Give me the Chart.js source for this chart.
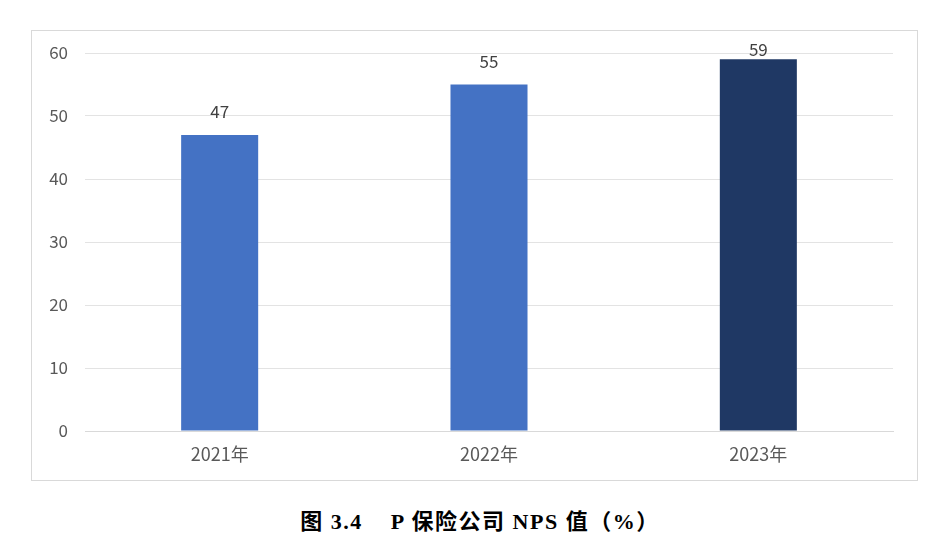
<!DOCTYPE html>
<html>
<head>
<meta charset="utf-8">
<script src="https://cdn.jsdelivr.net/npm/chart.js@4.4.1/dist/chart.umd.min.js"></script>
<style>
  html, body { margin: 0; padding: 0; background: #fff; }
  body { width: 950px; height: 534px; position: relative; overflow: hidden; }
  #box { position: absolute; left: 31px; top: 30px; width: 885px; height: 449px; border: 1px solid #d9d9d9; }
  #caption { position: absolute; left: 5px; width: 950px; top: 503px; text-align: center;
    font-family: "Liberation Serif", "Noto Sans CJK SC", serif; font-weight: bold; font-size: 22px;
    letter-spacing: 1.5px; color: #000; white-space: pre; }
</style>
</head>
<body>
<div id="box"><canvas id="npsChart" width="885" height="449"></canvas></div>
<div id="caption">图 3.4    P 保险公司 NPS 值（%）</div>
<script>
const years = ['2021年', '2022年', '2023年'];
const npsValues = [47, 55, 59];
const barColors = ['#4472C4', '#4472C4', '#1F3864'];
const yTicks = [0, 10, 20, 30, 40, 50, 60];

const font = '"Noto Sans CJK SC", "Open Sans", sans-serif';

// labels above the bars, kept inside the plot area like Excel does
const valueLabels = {
    id: 'valueLabels',
    afterDatasetsDraw(chart) {
        const ctx = chart.ctx;
        const meta = chart.getDatasetMeta(0);
        ctx.save();
        ctx.font = '17px ' + font;
        ctx.fillStyle = '#404040';
        ctx.textAlign = 'center';
        ctx.textBaseline = 'middle';
        meta.data.forEach(function (bar, i) {
            const y = Math.max(bar.y - 23, chart.chartArea.top - 3);
            ctx.fillText(npsValues[i], bar.x, y);
        });
        ctx.restore();
    }
};

const ctx = document.getElementById('npsChart').getContext('2d');
const npsChart = new Chart(ctx, {
    type: 'bar',
    data: {
        labels: years,
        datasets: [{
            data: npsValues,
            backgroundColor: barColors,
            barPercentage: 0.286,
            categoryPercentage: 1
        }]
    },
    options: {
        responsive: false,
        animation: false,
        layout: { padding: { left: 0, right: 24, top: 22, bottom: 0 } },
        plugins: { legend: { display: false }, tooltip: { enabled: false } },
        scales: {
            x: {
                grid: { display: false, drawTicks: false },
                border: { color: '#d9d9d9' },
                ticks: { color: '#595959', padding: 12, font: { family: font, size: 18 } },
                afterFit: function (s) { s.height = 49; s.paddingLeft = 0; s.paddingRight = 0; }
            },
            y: {
                min: 0,
                max: 60,
                afterBuildTicks: function (s) { s.ticks = yTicks.map(v => ({ value: v })); },
                grid: { color: '#e3e3e3', drawTicks: false },
                border: { display: false },
                ticks: { color: '#595959', padding: 17, font: { family: font, size: 17 } },
                afterFit: function (s) { s.width = 53; s.paddingTop = 0; s.paddingBottom = 0; }
            }
        }
    },
    plugins: [valueLabels]
});
</script>
</body>
</html>
